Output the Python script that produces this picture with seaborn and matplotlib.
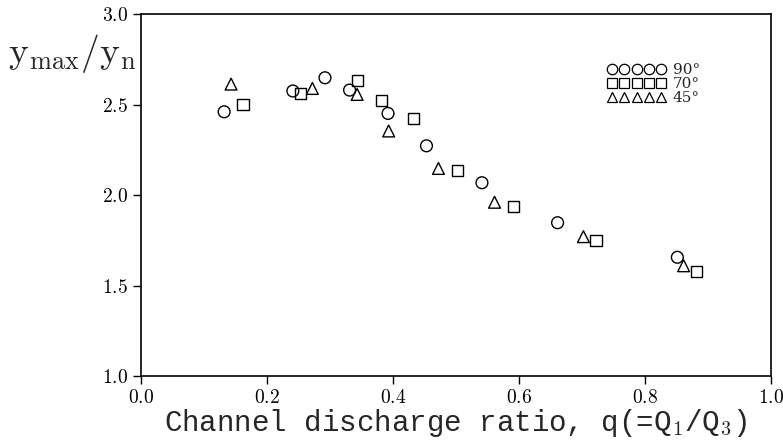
import numpy as np
import pandas as pd
import matplotlib
matplotlib.use("Agg")
import matplotlib.pyplot as plt
import seaborn as sns
from matplotlib.lines import Line2D
from matplotlib.ticker import FuncFormatter, MultipleLocator

# === DATA
q_90 = [0.132, 0.241, 0.292, 0.331, 0.392, 0.453, 0.541, 0.661, 0.851]
y_90 = [2.46, 2.575, 2.648, 2.58, 2.451, 2.272, 2.068, 1.847, 1.656]
q_70 = [0.162, 0.253, 0.343, 0.382, 0.432, 0.502, 0.591, 0.722, 0.881]
y_70 = [2.501, 2.562, 2.635, 2.521, 2.422, 2.138, 1.935, 1.748, 1.576]
q_45 = [0.143, 0.272, 0.343, 0.393, 0.472, 0.561, 0.702, 0.861]
y_45 = [2.613, 2.589, 2.556, 2.354, 2.147, 1.960, 1.770, 1.609]
angles = ["90", "70", "45"]
markers = {"90": "o", "70": "s", "45": "^"}
sizes = {"90": 8.5, "70": 8.0, "45": 8.5}

df = pd.concat([
    pd.DataFrame({"q": q_90, "ratio": y_90, "angle": "90"}),
    pd.DataFrame({"q": q_70, "ratio": y_70, "angle": "70"}),
    pd.DataFrame({"q": q_45, "ratio": y_45, "angle": "45"}),
])

# === STYLE
sns.set_style("ticks")
plt.rcParams["mathtext.fontset"] = "cm"
plt.rcParams["font.family"] = ["DejaVu Serif"]

fig = plt.figure(figsize=(7.83, 4.40), dpi=100)
ax = fig.add_axes([0.180, 0.1455, 0.805, 0.8225])

for a in angles:
    sub = df[df["angle"] == a]
    sns.scatterplot(data=sub, x="q", y="ratio", marker=markers[a],
                    s=sizes[a] ** 2, color="black", facecolor="none",
                    edgecolor="black", linewidth=1.0, legend=False, ax=ax)

ax.set_xlim(0, 1)
ax.set_ylim(1, 3)
ax.xaxis.set_major_locator(MultipleLocator(0.2))
ax.yaxis.set_major_locator(MultipleLocator(0.5))
fmt = FuncFormatter(lambda v, p: f"${v:.1f}$")
ax.xaxis.set_major_formatter(fmt)
ax.yaxis.set_major_formatter(fmt)
ax.tick_params(direction="out", length=6, width=1.0, labelsize=14, colors="black")
for sp in ax.spines.values():
    sp.set_visible(True)
    sp.set_linewidth(1.2)
    sp.set_color("black")

ax.set_xlabel(r"Channel discharge ratio, q(=Q$_1$/Q$_3$)",
              fontsize=21, family=["Liberation Mono"], labelpad=0)
ax.set_ylabel("")
fig.text(0.010, 0.878, r"$\mathrm{y_{max}/y_n}$", fontsize=27,
         ha="left", va="center")

handles = [Line2D([], [], marker=markers[a], linestyle="none", color="black",
                  markerfacecolor="none", markersize=7.5, markeredgewidth=0.9)
           for a in angles]
labels = [f"{a}°" for a in angles]
ax.legend(handles, labels, numpoints=5, loc="upper left",
          bbox_to_anchor=(0.740, 0.864), frameon=False, fontsize=11,
          handlelength=3.83, handletextpad=0.46, labelspacing=0.0,
          borderpad=0.0, borderaxespad=0.0)

fig.savefig("out.png", dpi=100)
